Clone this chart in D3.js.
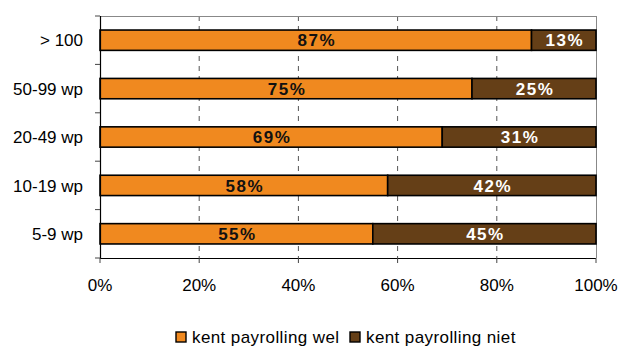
<!DOCTYPE html>
<html>
<head>
<meta charset="utf-8">
<script src="https://cdn.jsdelivr.net/npm/d3@7"></script>
<style>
  body { margin: 0; background: #fff; }
  svg { display: block; font-family: "Liberation Sans", Arial, sans-serif; }
</style>
</head>
<body>
<svg id="chart" width="618" height="347"></svg>
<script>
// Company size classes, top to bottom
const categories = ["> 100", "50-99 wp", "20-49 wp", "10-19 wp", "5-9 wp"];
// Share that knows payrolling (%)
const kentWel = [87, 75, 69, 58, 55];
// Share that does not know payrolling (%)
const kentNiet = [13, 25, 31, 42, 45];
const xTicks = [0, 20, 40, 60, 80, 100];
const seriesNames = ["kent payrolling wel", "kent payrolling niet"];
const colors = ["#F0891F", "#653F17"];
const labelColors = ["#111", "#fff"];

const svg = d3.select("#chart");
const m = { left: 100, right: 596, top: 16, bottom: 258 };

const x = d3.scaleLinear().domain([0, 100]).range([m.left, m.right]);
const y = d3.scaleBand().domain(categories).range([m.top, m.bottom]).paddingInner(0.58).paddingOuter(0.29);
const yOuter = d3.scaleBand().domain(categories).range([m.top, m.bottom]);

// dashed vertical gridlines
svg.append("g").selectAll("line")
  .data(xTicks.filter(t => t > 0 && t < 100))
  .join("line")
  .attr("x1", d => x(d)).attr("x2", d => x(d))
  .attr("y1", m.top).attr("y2", m.bottom)
  .attr("stroke", "#555").attr("stroke-width", 1)
  .attr("stroke-dasharray", "5,5");

// top and right frame
svg.append("line").attr("x1", m.left).attr("x2", m.right).attr("y1", m.top + 0.5).attr("y2", m.top + 0.5)
  .attr("stroke", "#888").attr("stroke-width", 1);
svg.append("line").attr("x1", m.right + 0.5).attr("x2", m.right + 0.5).attr("y1", m.top).attr("y2", m.bottom)
  .attr("stroke", "#888").attr("stroke-width", 1);

// stacked data
const rows = categories.map((c, i) => ({ cat: c, vals: [kentWel[i], kentNiet[i]] }));
const segs = [];
rows.forEach(r => {
  let acc = 0;
  r.vals.forEach((v, k) => {
    segs.push({ cat: r.cat, k, v, x0: acc, x1: acc + v });
    acc += v;
  });
});

const bars = svg.append("g");
bars.selectAll("rect").data(segs).join("rect")
  .attr("x", d => x(d.x0))
  .attr("y", d => y(d.cat))
  .attr("width", d => x(d.x1) - x(d.x0))
  .attr("height", y.bandwidth())
  .attr("fill", d => colors[d.k])
  .attr("stroke", "#000").attr("stroke-width", 1.6);

bars.selectAll("text").data(segs).join("text")
  .attr("x", d => (x(d.x0) + x(d.x1)) / 2 + 1)
  .attr("y", d => y(d.cat) + y.bandwidth() / 2)
  .attr("dy", "0.36em")
  .attr("text-anchor", "middle")
  .attr("font-weight", "bold").attr("font-size", 17)
  .attr("letter-spacing", "1.5px")
  .attr("fill", d => labelColors[d.k])
  .text(d => d.v + "%");

// left axis
const yAxis = svg.append("g");
yAxis.append("line").attr("x1", m.left + 0.5).attr("x2", m.left + 0.5).attr("y1", m.top).attr("y2", m.bottom)
  .attr("stroke", "#000").attr("stroke-width", 1.2);
const bounds = categories.map(c => yOuter(c)).concat([m.bottom]);
yAxis.selectAll("line.tick").data(bounds).join("line").attr("class", "tick")
  .attr("x1", m.left - 5).attr("x2", m.left)
  .attr("y1", d => d).attr("y2", d => d)
  .attr("stroke", "#444").attr("stroke-width", 1);
yAxis.selectAll("text").data(categories).join("text")
  .attr("x", m.left - 17)
  .attr("y", d => y(d) + y.bandwidth() / 2)
  .attr("dy", "0.36em")
  .attr("text-anchor", "end")
  .attr("font-size", 17).attr("fill", "#000")
  .text(d => d);

// bottom axis
const xAxis = svg.append("g");
xAxis.append("line").attr("x1", m.left).attr("x2", m.right).attr("y1", m.bottom + 0.5).attr("y2", m.bottom + 0.5)
  .attr("stroke", "#000").attr("stroke-width", 1.2);
xAxis.selectAll("line.tick").data(xTicks).join("line").attr("class", "tick")
  .attr("x1", d => x(d)).attr("x2", d => x(d))
  .attr("y1", m.bottom).attr("y2", m.bottom + 5)
  .attr("stroke", "#444").attr("stroke-width", 1);
xAxis.selectAll("text").data(xTicks).join("text")
  .attr("x", d => x(d))
  .attr("y", 291)
  .attr("text-anchor", "middle")
  .attr("font-size", 17).attr("fill", "#000")
  .text(d => d + "%");

// legend
const legend = svg.append("g");
const legX = [176, 350];
seriesNames.forEach((name, i) => {
  legend.append("rect")
    .attr("x", legX[i]).attr("y", 332).attr("width", 10).attr("height", 10)
    .attr("fill", colors[i]).attr("stroke", "#000").attr("stroke-width", 1.4);
  legend.append("text")
    .attr("x", legX[i] + 16).attr("y", 343)
    .attr("font-size", 17).attr("fill", "#000")
    .attr("letter-spacing", "0.4px")
    .text(name);
});
</script>
</body>
</html>
